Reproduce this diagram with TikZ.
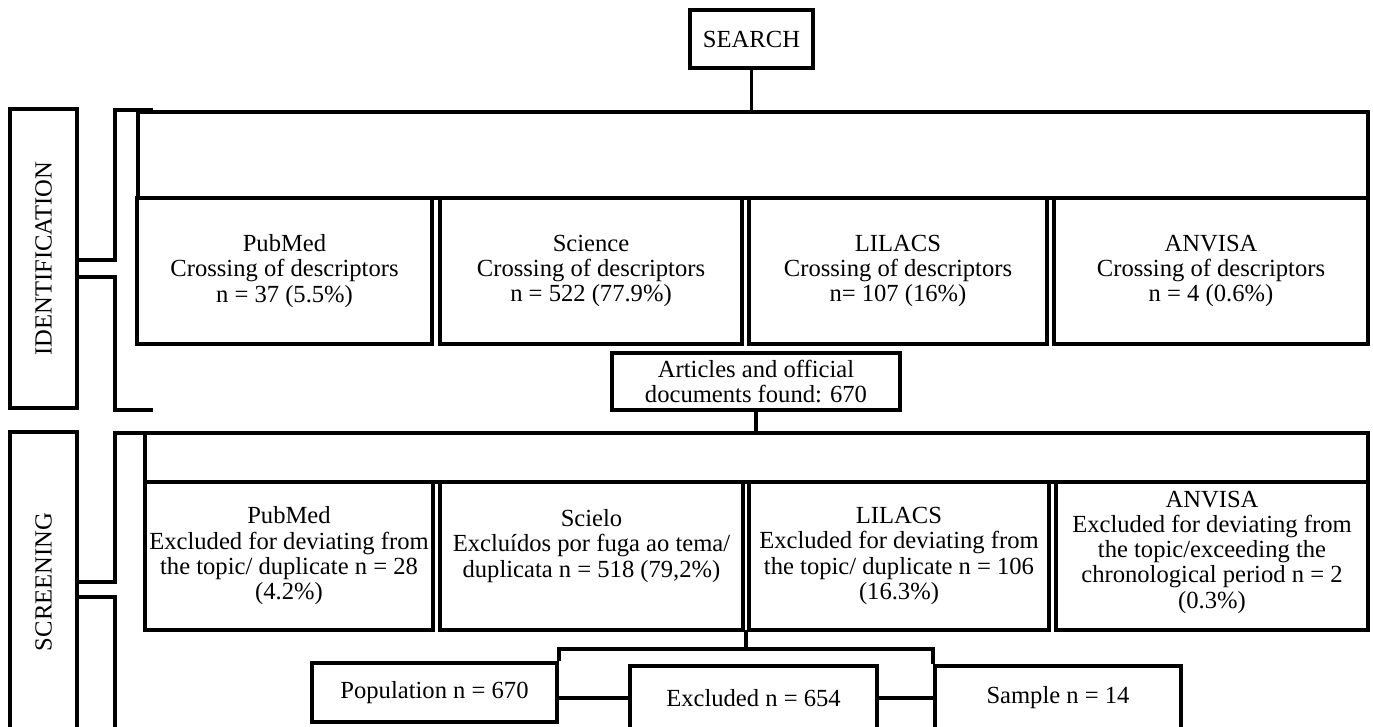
\documentclass[tikz,border=0pt]{standalone}
\usepackage{fontspec}
\setmainfont{Liberation Serif}

\begin{document}
\begin{tikzpicture}[x=0.02cm, y=-0.02cm, line width=2.2pt,
  wh/.style 2 args={minimum width=#1*0.02cm, minimum height=#2*0.02cm},
  box/.style={draw, rectangle, align=center, inner sep=2pt,
    font=\fontsize{14}{14.4}\selectfont},
  frame/.style={draw, rectangle, inner sep=0pt},
  stage/.style={box, rotate=90}]
  \clip (0,0) rectangle (1373,727);
  % search and identification
  \node[box, wh={123}{58}] (search) at (751.5,39) {SEARCH};
  \node[stage, wh={299}{67}] (idlabel) at (43.5,258.5) {IDENTIFICATION};
  \node[frame, wh={1230}{86}] (idframe) at (753,155) {};
  \node[box, wh={295}{146}] (pubmed)  at (284.5,271) {PubMed\\ Crossing of descriptors\\ n = 37 (5.5\%)};
  \node[box, wh={302}{146}] (science) at (591,271)   {Science\\ Crossing of descriptors\\ n = 522 (77.9\%)};
  \node[box, wh={298}{146}] (lilacs)  at (898,271)   {LILACS\\ Crossing of descriptors\\ n= 107 (16\%)};
  \node[box, wh={314}{146}] (anvisa)  at (1211,271)  {ANVISA\\ Crossing of descriptors\\ n = 4 (0.6\%)};
  \node[box, wh={288}{57}] (articles) at (756,381.5) {Articles and official\\ documents found: 670};
  \draw (search.south) -- (search.south |- idframe.north);
  \draw (153,110) -| (115,260) -- ++(-38,0);
  \draw (77,277) -| (115,410) -- ++(38,0);
  % screening
  \node[stage, wh={300}{67}] (sclabel) at (43.5,582) {SCREENING};
  \node[frame, wh={1223}{49}] (scframe) at (756.5,457.5) {};
  \node[box, wh={288}{148}] (pubmedx) at (289,556)   {PubMed\\ Excluded for deviating from\\ the topic/ duplicate n = 28\\ (4.2\%)};
  \node[box, wh={303}{148}] (scielo)  at (591.5,556) {Scielo\\ Excluídos por fuga ao tema/\\ duplicata n = 518 (79,2\%)\\ \mbox{}};
  \node[box, wh={300}{148}] (lilacsx) at (899,556)   {LILACS\\ Excluded for deviating from\\ the topic/ duplicate n = 106\\ (16.3\%)};
  \node[box, wh={312}{148}] (anvisax) at (1212,556)  {ANVISA\\ Excluded for deviating from\\ the topic/exceeding the\\ chronological period n = 2\\ (0.3\%)\\[-7pt] \mbox{}};
  \draw (articles.south) -- (articles.south |- scframe.north);
  \draw (145,433) -| (115,582) -- ++(-38,0);
  \draw (77,597) -| (115,740);
  % result
  \node[box, wh={245}{59}] (pop)  at (434.5,692.5) {Population n = 670};
  \node[box, wh={247}{64}] (excl) at (753.5,698)   {Excluded n = 654};
  \node[box, wh={246}{64}] (samp) at (1058,698)    {Sample n = 14};
  \coordinate (split) at (746,630);
  \draw (split) -- ++(0,19) coordinate (join);
  \draw (pop.north east) |- (join) -| (samp.north west);
  \draw (excl.west) -- (excl.west -| pop.east);
  \draw (excl) -- (samp);
\end{tikzpicture}
\end{document}
